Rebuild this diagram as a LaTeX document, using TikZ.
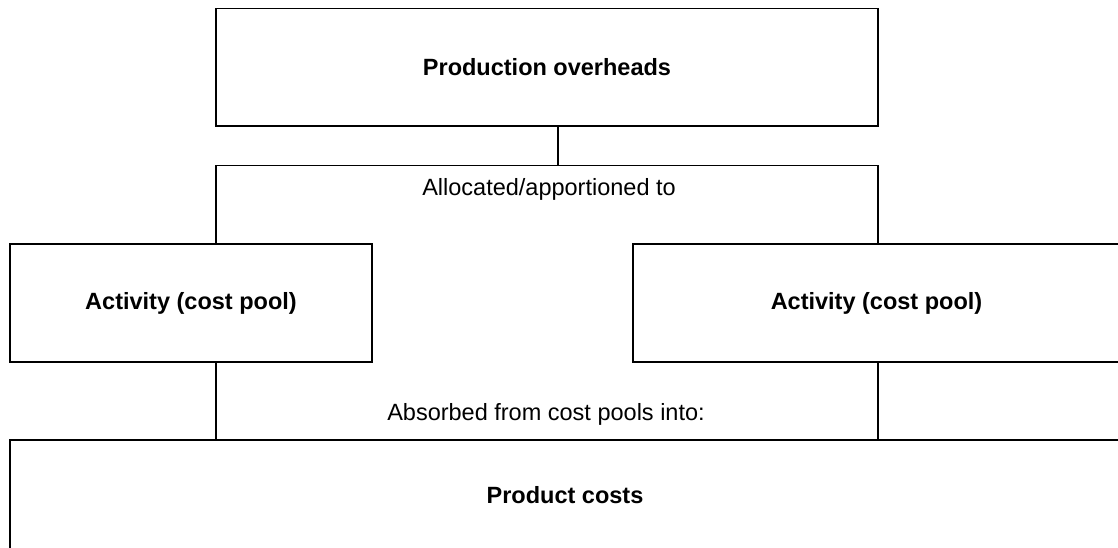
\documentclass[tikz,border=0pt]{standalone}
\usepackage{fontspec}
\setmainfont{Liberation Sans}
\begin{document}
\begin{tikzpicture}[x=1pt,y=-1pt,
  box/.style={draw=black, line width=1.6pt, inner sep=0pt, font=\fontsize{23.5}{27}\selectfont\bfseries},
  lbl/.style={inner sep=0pt, font=\fontsize{23.5}{27}\selectfont},
  conn/.style={draw=black, line width=1.6pt}]
\useasboundingbox (0,0) rectangle (1118,548);
\clip (0,0) rectangle (1118,548);
\node[box, minimum width=662pt, minimum height=117.5pt] (top) at (547,67.2) {Production overheads};
\node[box, minimum width=362pt, minimum height=118pt] (left) at (191,303) {Activity (cost pool)};
\node[box, minimum width=487pt, minimum height=118pt] (right) at (876.5,303) {Activity (cost pool)};
\node[box, minimum width=1110pt, minimum height=110pt] (bottom) at (565,495) {Product costs};
\coordinate (busL) at (216,165.7);
\coordinate (busM) at (558,165.7);
\coordinate (busR) at (878,165.7);
\draw[conn] (busM |- top.south) -- (busM);
\draw[conn, line join=miter] (busL |- left.north) -- (busL) -- (busR) -- (busR |- right.north);
\draw[conn] (busL |- left.south) -- (busL |- bottom.north);
\draw[conn] (busR |- right.south) -- (busR |- bottom.north);
\node[lbl] (alloc) at (549,189) {Allocated/apportioned to};
\node[lbl] (absorb) at (546,414) {Absorbed from cost pools into:};
\end{tikzpicture}
\end{document}
